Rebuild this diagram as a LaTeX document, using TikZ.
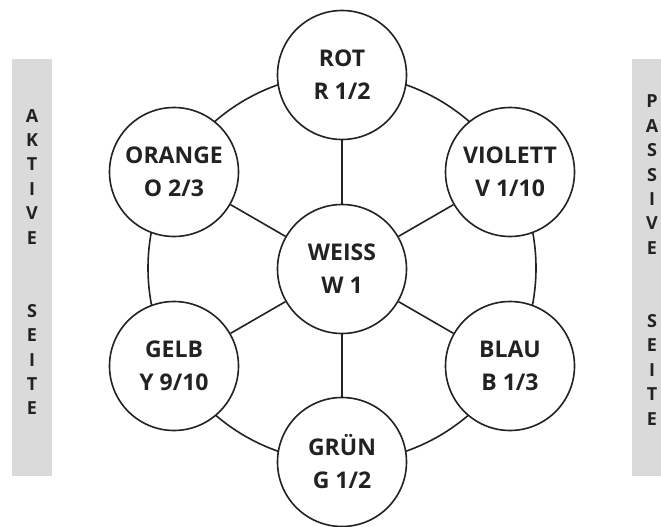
\documentclass[tikz,border=0pt]{standalone}
\usepackage{fontspec}
\setmainfont{Open Sans}
\definecolor{barfill}{HTML}{DADADA}
\definecolor{ink}{HTML}{222222}
\begin{document}
\begin{tikzpicture}[x=1pt,y=-1pt,
  colnode/.style={circle,draw=ink,line width=1.6pt,fill=white,minimum size=129pt,inner sep=0pt,align=center,
    font=\fontsize{23}{33}\selectfont\bfseries,text=ink},
  spoke/.style={draw=ink,line width=1.6pt},
  sidetext/.style={align=center,font=\fontsize{18}{24.4}\selectfont\bfseries,text=ink,inner sep=0pt}]
\useasboundingbox (0,0) rectangle (661,527);
% side bars
\fill[barfill] (12,59) rectangle (52,476);
\fill[barfill] (632,59) rectangle (661,476);
\node[sidetext] (aktiv) at (32,262) {A\\K\\T\\I\\V\\E\\~\\~\\S\\E\\I\\T\\E};
\node[sidetext] (passiv) at (652,260) {P\\A\\S\\S\\I\\V\\E\\~\\~\\S\\E\\I\\T\\E};
% ring
\coordinate (c) at (342,268);
\draw[spoke] (c) circle (194);
% nodes
\node[colnode] (W) at (342,269) {WEISS\\W 1};
\node[colnode] (R) at (342,75) {ROT\\R 1/2};
\node[colnode] (O) at (174,172) {ORANGE\\O 2/3};
\node[colnode] (V) at (510,172) {VIOLETT\\V 1/10};
\node[colnode] (Y) at (174,366) {GELB\\Y 9/10};
\node[colnode] (B) at (510,366) {BLAU\\B 1/3};
\node[colnode] (G) at (342,462) {GRÜN\\G 1/2};
% spokes
\foreach \n in {R,O,V,Y,B,G} \draw[spoke] (W) -- (\n);
\end{tikzpicture}
\end{document}
